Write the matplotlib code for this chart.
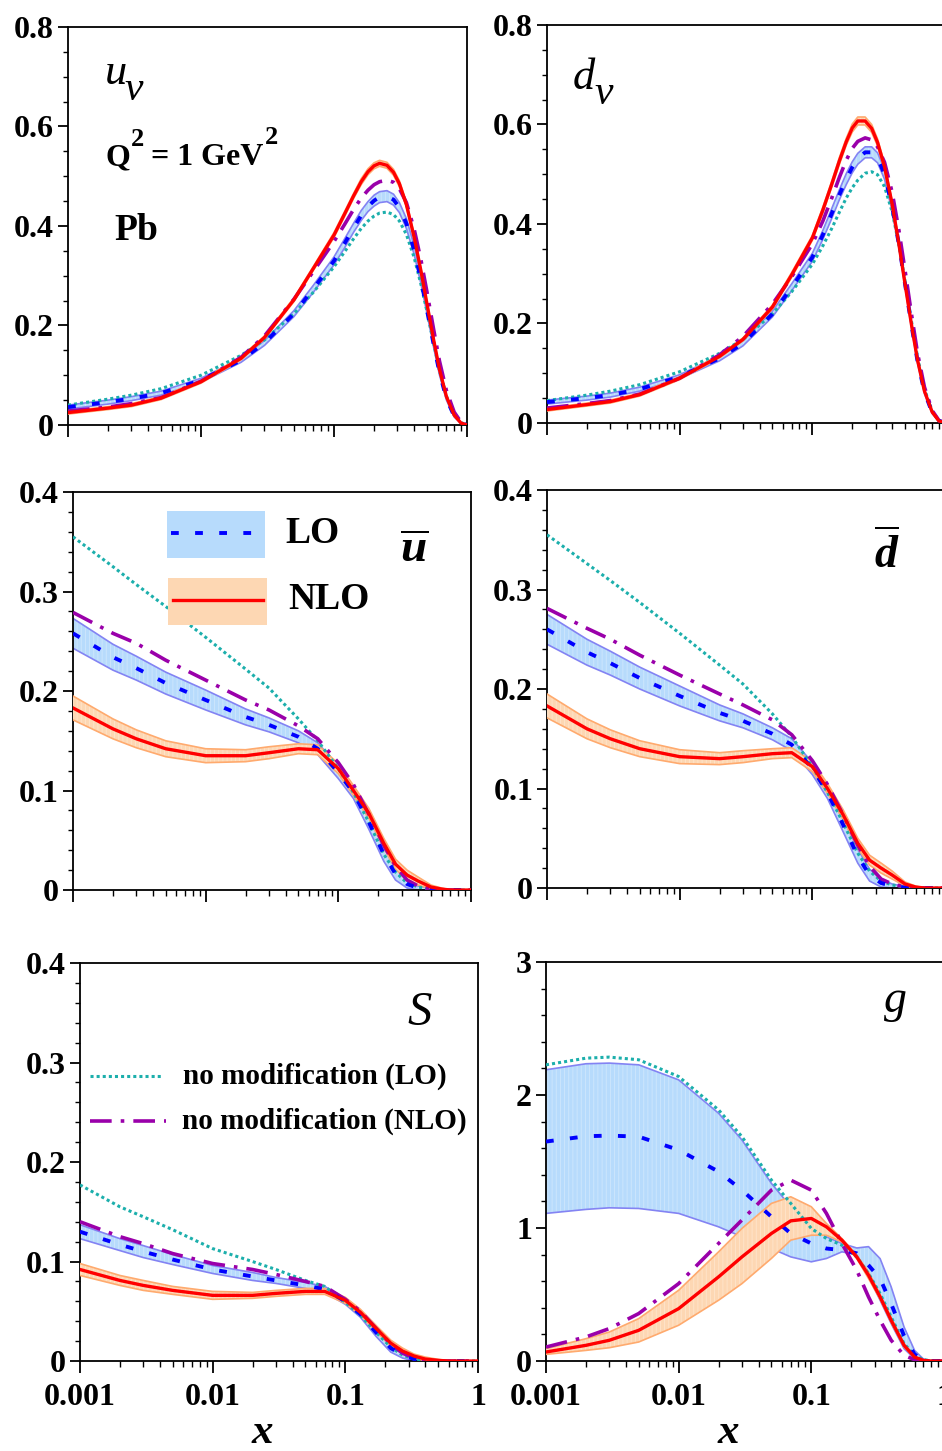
import matplotlib
matplotlib.use('Agg')
import matplotlib.pyplot as plt
from matplotlib.patches import Rectangle
from matplotlib.ticker import FixedLocator, MultipleLocator, LogLocator, NullFormatter, FuncFormatter

plt.rcParams['font.family'] = ['Liberation Serif', 'DejaVu Serif']
plt.rcParams['font.weight'] = 'bold'
plt.rcParams['mathtext.fontset'] = 'custom'
plt.rcParams['mathtext.rm'] = 'Liberation Serif'
plt.rcParams['mathtext.it'] = 'Liberation Serif:italic'
plt.rcParams['mathtext.bf'] = 'Liberation Serif:bold'
plt.rcParams['hatch.linewidth'] = 0.6

# x grid for the valence panels (denser around the peak)
xv = [0.001, 0.002, 0.003, 0.005, 0.01, 0.02, 0.03, 0.05, 0.07, 0.1,
      0.12, 0.14, 0.16, 0.18, 0.2, 0.22, 0.25, 0.28, 0.31, 0.35,
      0.4, 0.45, 0.5, 0.56, 0.62, 0.7, 0.8, 0.9, 1.0]
# x grid for sea quarks and gluon
x = [0.001, 0.002, 0.003, 0.005, 0.01, 0.02, 0.03, 0.05, 0.07, 0.1, 0.13,
     0.17, 0.22, 0.27, 0.33, 0.4, 0.5, 0.6, 0.7, 0.8, 0.9, 1.0]

# u_v
uv_lo = [0.036, 0.046, 0.053, 0.064, 0.090, 0.130, 0.165, 0.224, 0.274, 0.330,
         0.365, 0.396, 0.421, 0.439, 0.451, 0.458, 0.460, 0.453, 0.437, 0.405,
         0.352, 0.292, 0.231, 0.163, 0.106, 0.053, 0.018, 0.004, 0.0]
uv_lo_err = [0.004, 0.004, 0.004, 0.004, 0.004, 0.004, 0.005, 0.006, 0.007, 0.008,
             0.009, 0.009, 0.010, 0.010, 0.011, 0.011, 0.011, 0.011, 0.010, 0.010,
             0.009, 0.008, 0.007, 0.006, 0.005, 0.003, 0.002, 0.001, 0.0]
uv_nlo = [0.025, 0.034, 0.040, 0.054, 0.087, 0.134, 0.176, 0.252, 0.315, 0.382,
          0.424, 0.460, 0.489, 0.509, 0.521, 0.526, 0.522, 0.508, 0.485, 0.443,
          0.378, 0.310, 0.243, 0.172, 0.112, 0.057, 0.020, 0.004, 0.0]
uv_nlo_err = [0.003, 0.003, 0.003, 0.003, 0.003, 0.003, 0.003, 0.004, 0.004, 0.005,
              0.005, 0.005, 0.006, 0.006, 0.006, 0.006, 0.006, 0.006, 0.006, 0.005,
              0.005, 0.004, 0.004, 0.003, 0.003, 0.002, 0.001, 0.0005, 0.0]
uv_nomod_lo = [0.040, 0.052, 0.060, 0.073, 0.100, 0.140, 0.171, 0.224, 0.267, 0.318,
               0.348, 0.374, 0.395, 0.410, 0.420, 0.426, 0.428, 0.423, 0.410, 0.383,
               0.337, 0.283, 0.228, 0.165, 0.110, 0.058, 0.021, 0.005, 0.0]
uv_nomod_nlo = [0.028, 0.036, 0.043, 0.055, 0.088, 0.136, 0.179, 0.253, 0.309, 0.369,
                0.403, 0.433, 0.456, 0.472, 0.483, 0.489, 0.492, 0.488, 0.475, 0.447,
                0.394, 0.332, 0.267, 0.193, 0.129, 0.069, 0.026, 0.006, 0.0]

# d_v
dv_lo = [0.042, 0.050, 0.056, 0.068, 0.093, 0.130, 0.160, 0.219, 0.273, 0.333,
         0.378, 0.421, 0.459, 0.490, 0.514, 0.531, 0.544, 0.544, 0.533, 0.500,
         0.434, 0.358, 0.279, 0.195, 0.125, 0.062, 0.021, 0.004, 0.0]
dv_lo_err = [0.004, 0.004, 0.004, 0.004, 0.004, 0.005, 0.005, 0.006, 0.007, 0.008,
             0.009, 0.010, 0.010, 0.011, 0.011, 0.011, 0.011, 0.011, 0.010, 0.010,
             0.009, 0.007, 0.006, 0.005, 0.004, 0.003, 0.002, 0.001, 0.0]
dv_nlo = [0.027, 0.037, 0.043, 0.057, 0.090, 0.134, 0.168, 0.233, 0.298, 0.372,
          0.428, 0.480, 0.527, 0.565, 0.593, 0.607, 0.607, 0.592, 0.564, 0.515,
          0.439, 0.358, 0.279, 0.196, 0.127, 0.064, 0.022, 0.004, 0.0]
dv_nlo_err = [0.003, 0.003, 0.003, 0.003, 0.003, 0.003, 0.003, 0.004, 0.005, 0.005,
              0.006, 0.006, 0.007, 0.007, 0.008, 0.008, 0.008, 0.008, 0.007, 0.007,
              0.006, 0.005, 0.004, 0.003, 0.003, 0.002, 0.001, 0.0005, 0.0]
dv_nomod_lo = [0.045, 0.056, 0.064, 0.077, 0.103, 0.140, 0.168, 0.219, 0.264, 0.319,
               0.356, 0.391, 0.424, 0.452, 0.473, 0.488, 0.502, 0.505, 0.499, 0.475,
               0.424, 0.357, 0.285, 0.203, 0.133, 0.068, 0.024, 0.005, 0.0]
dv_nomod_nlo = [0.030, 0.039, 0.045, 0.058, 0.090, 0.137, 0.174, 0.239, 0.294, 0.360,
                0.406, 0.452, 0.494, 0.528, 0.552, 0.566, 0.573, 0.569, 0.555, 0.524,
                0.463, 0.386, 0.306, 0.217, 0.141, 0.072, 0.025, 0.005, 0.0]

# u-bar
ub_lo = [0.258, 0.234, 0.223, 0.208, 0.191, 0.174, 0.166, 0.154, 0.142, 0.118, 0.098,
         0.068, 0.036, 0.016, 0.006, 0.002, 0.0005, 0.0, 0.0, 0.0, 0.0, 0.0]
ub_lo_err = [0.015, 0.013, 0.012, 0.011, 0.010, 0.008, 0.007, 0.006, 0.006, 0.006, 0.006,
             0.007, 0.007, 0.006, 0.004, 0.002, 0.001, 0.0, 0.0, 0.0, 0.0, 0.0]
ub_nlo = [0.183, 0.162, 0.152, 0.142, 0.135, 0.135, 0.138, 0.142, 0.141, 0.122, 0.100,
          0.077, 0.047, 0.026, 0.015, 0.009, 0.003, 0.001, 0.0, 0.0, 0.0, 0.0]
ub_nlo_err = [0.012, 0.010, 0.009, 0.008, 0.007, 0.006, 0.006, 0.005, 0.005, 0.005, 0.005,
              0.005, 0.005, 0.005, 0.005, 0.004, 0.002, 0.001, 0.0, 0.0, 0.0, 0.0]
ub_nomod_lo = [0.355, 0.325, 0.307, 0.285, 0.254, 0.222, 0.203, 0.172, 0.150, 0.122, 0.098,
               0.068, 0.036, 0.018, 0.007, 0.003, 0.001, 0.0, 0.0, 0.0, 0.0, 0.0]
ub_nomod_nlo = [0.279, 0.258, 0.248, 0.231, 0.211, 0.191, 0.181, 0.165, 0.152, 0.128, 0.106,
                0.076, 0.045, 0.024, 0.010, 0.004, 0.001, 0.0, 0.0, 0.0, 0.0, 0.0]

# d-bar
db_lo = [0.260, 0.237, 0.226, 0.211, 0.193, 0.176, 0.168, 0.155, 0.144, 0.120, 0.096,
         0.064, 0.032, 0.013, 0.005, 0.002, 0.0005, 0.0, 0.0, 0.0, 0.0, 0.0]
db_lo_err = [0.015, 0.013, 0.012, 0.011, 0.010, 0.008, 0.007, 0.006, 0.006, 0.006, 0.006,
             0.007, 0.007, 0.006, 0.004, 0.002, 0.001, 0.0, 0.0, 0.0, 0.0, 0.0]
db_nlo = [0.183, 0.160, 0.150, 0.140, 0.132, 0.130, 0.132, 0.135, 0.136, 0.122, 0.100,
          0.074, 0.045, 0.028, 0.020, 0.013, 0.004, 0.001, 0.0, 0.0, 0.0, 0.0]
db_nlo_err = [0.012, 0.010, 0.009, 0.008, 0.007, 0.006, 0.006, 0.005, 0.005, 0.005, 0.005,
              0.005, 0.005, 0.005, 0.005, 0.004, 0.002, 0.001, 0.0, 0.0, 0.0, 0.0]
db_nomod_lo = [0.355, 0.326, 0.309, 0.287, 0.256, 0.224, 0.205, 0.175, 0.152, 0.122, 0.096,
               0.066, 0.035, 0.017, 0.007, 0.003, 0.001, 0.0, 0.0, 0.0, 0.0, 0.0]
db_nomod_nlo = [0.281, 0.261, 0.250, 0.234, 0.214, 0.195, 0.184, 0.169, 0.154, 0.128, 0.104,
                0.074, 0.043, 0.022, 0.009, 0.004, 0.001, 0.0, 0.0, 0.0, 0.0, 0.0]

# strange
s_lo = [0.130, 0.117, 0.110, 0.102, 0.092, 0.085, 0.081, 0.076, 0.072, 0.060, 0.047,
        0.029, 0.013, 0.006, 0.002, 0.0005, 0.0, 0.0, 0.0, 0.0, 0.0, 0.0]
s_lo_err = [0.007, 0.006, 0.006, 0.005, 0.004, 0.004, 0.003, 0.003, 0.003, 0.003, 0.003,
            0.004, 0.004, 0.003, 0.002, 0.001, 0.0, 0.0, 0.0, 0.0, 0.0, 0.0]
s_nlo = [0.092, 0.081, 0.076, 0.071, 0.066, 0.066, 0.068, 0.070, 0.070, 0.061, 0.049,
         0.033, 0.018, 0.010, 0.005, 0.002, 0.0007, 0.0, 0.0, 0.0, 0.0, 0.0]
s_nlo_err = [0.006, 0.005, 0.005, 0.004, 0.004, 0.003, 0.003, 0.003, 0.003, 0.003, 0.003,
             0.003, 0.003, 0.003, 0.002, 0.002, 0.001, 0.0, 0.0, 0.0, 0.0, 0.0]
s_nomod_lo = [0.177, 0.155, 0.145, 0.132, 0.113, 0.100, 0.092, 0.081, 0.075, 0.059, 0.046,
              0.029, 0.014, 0.006, 0.002, 0.001, 0.0, 0.0, 0.0, 0.0, 0.0, 0.0]
s_nomod_nlo = [0.140, 0.125, 0.118, 0.108, 0.098, 0.092, 0.087, 0.080, 0.075, 0.062, 0.050,
               0.033, 0.017, 0.008, 0.003, 0.001, 0.0, 0.0, 0.0, 0.0, 0.0, 0.0]

# gluon
g_lo = [1.650, 1.690, 1.695, 1.687, 1.587, 1.424, 1.285, 1.085, 0.959, 0.884, 0.846,
        0.834, 0.810, 0.720, 0.620, 0.430, 0.190, 0.050, 0.010, 0.0, 0.0, 0.0]
g_lo_up = [2.190, 2.235, 2.240, 2.227, 2.114, 1.863, 1.662, 1.336, 1.160, 1.009, 0.934,
           0.884, 0.850, 0.860, 0.770, 0.557, 0.256, 0.080, 0.015, 0.002, 0.0, 0.0]
g_lo_dn = [1.110, 1.140, 1.152, 1.147, 1.110, 1.009, 0.934, 0.846, 0.783, 0.746, 0.771,
           0.821, 0.800, 0.633, 0.457, 0.281, 0.093, 0.018, 0.003, 0.0, 0.0, 0.0]
g_nlo = [0.068, 0.118, 0.156, 0.231, 0.394, 0.633, 0.783, 0.959, 1.054, 1.072, 1.009,
         0.909, 0.783, 0.645, 0.482, 0.306, 0.118, 0.030, 0.005, 0.0, 0.0, 0.0]
g_nlo_up = [0.093, 0.168, 0.218, 0.319, 0.532, 0.821, 0.997, 1.185, 1.235, 1.160, 1.034,
            0.921, 0.796, 0.670, 0.500, 0.325, 0.130, 0.036, 0.007, 0.001, 0.0, 0.0]
g_nlo_dn = [0.050, 0.080, 0.100, 0.143, 0.269, 0.457, 0.582, 0.771, 0.909, 0.946, 0.946,
            0.896, 0.771, 0.620, 0.465, 0.290, 0.106, 0.025, 0.004, 0.0, 0.0, 0.0]
g_nomod_lo = [2.227, 2.277, 2.285, 2.265, 2.139, 1.888, 1.687, 1.361, 1.185, 0.997, 0.921,
              0.871, 0.783, 0.658, 0.507, 0.331, 0.131, 0.043, 0.010, 0.002, 0.0, 0.0]
g_nomod_nlo = [0.105, 0.181, 0.244, 0.357, 0.582, 0.884, 1.060, 1.285, 1.360, 1.285, 1.110,
               0.884, 0.683, 0.482, 0.306, 0.156, 0.043, 0.010, 0.002, 0.0, 0.0, 0.0]

x_ticklabels = ['0.001', '0.01', '0.1', '1']

LO_FILL = '#b7dbfc'
LO_HATCH = '#cfe7fd'
LO_EDGE = '#8383f3'
LO_LINE = '#0000ff'
NLO_FILL = '#fdd7b3'
NLO_HATCH = '#ffe5cc'
NLO_EDGE = '#ffaa6e'
NLO_LINE = '#ff0000'
TEAL = '#1cafac'
PURPLE = '#9a00aa'

DASH_LO = (0, (2, 4.2))
DOT = (0, (1, 1))
DASHDOT = (0, (6, 2.5, 1, 2.5))

fig = plt.figure(figsize=(9.42, 14.51), dpi=100)


def band(center, err):
    dn = [c - e for c, e in zip(center, err)]
    up = [c + e for c, e in zip(center, err)]
    return dn, up


def draw_panel(rect, xs, lo, lo_dn, lo_up, nlo, nlo_dn, nlo_up, nm_lo, nm_nlo,
               ymax, ymajor, yminor, show_xlabels):
    ax = fig.add_axes(rect)
    ax.fill_between(xs, lo_dn, lo_up, facecolor=LO_FILL, edgecolor=LO_HATCH,
                    hatch='||||', lw=0, zorder=1)
    ax.plot(xs, lo_dn, color=LO_EDGE, lw=1.2, zorder=2)
    ax.plot(xs, lo_up, color=LO_EDGE, lw=1.2, zorder=2)
    ax.fill_between(xs, nlo_dn, nlo_up, facecolor=NLO_FILL, edgecolor=NLO_HATCH,
                    hatch='||||', lw=0, zorder=3)
    ax.plot(xs, nlo_dn, color=NLO_EDGE, lw=1.2, zorder=4)
    ax.plot(xs, nlo_up, color=NLO_EDGE, lw=1.2, zorder=4)
    ax.plot(xs, nm_lo, color=TEAL, lw=2.2, ls=DOT, zorder=5)
    ax.plot(xs, nm_nlo, color=PURPLE, lw=2.6, ls=DASHDOT, zorder=6)
    ax.plot(xs, lo, color=LO_LINE, lw=2.8, ls=DASH_LO, zorder=7)
    ax.plot(xs, nlo, color=NLO_LINE, lw=2.4, zorder=8)

    ax.set_xscale('log')
    ax.set_xlim(0.001, 1)
    ax.set_ylim(0, ymax)
    ax.xaxis.set_major_locator(FixedLocator([0.001, 0.01, 0.1, 1]))
    ax.xaxis.set_minor_locator(LogLocator(base=10, subs=[2, 3, 4, 5, 6, 7, 8, 9], numticks=20))
    ax.xaxis.set_minor_formatter(NullFormatter())
    if show_xlabels:
        ax.set_xticklabels(x_ticklabels)
    else:
        ax.xaxis.set_major_formatter(NullFormatter())
    ax.yaxis.set_major_locator(MultipleLocator(ymajor))
    ax.yaxis.set_minor_locator(MultipleLocator(yminor))
    ax.yaxis.set_major_formatter(FuncFormatter(lambda v, p: '0' if abs(v) < 1e-9 else '%g' % v))

    ax.tick_params(which='both', direction='out', top=False, right=False)
    ax.tick_params(axis='y', which='major', length=7, width=1.3, pad=3, labelsize=23)
    ax.tick_params(axis='y', which='minor', length=3.6, width=1.0)
    ax.tick_params(axis='x', which='major', length=8.5, width=1.3, pad=7, labelsize=23)
    ax.tick_params(axis='x', which='minor', length=4.5, width=1.0)
    for sp in ax.spines.values():
        sp.set_linewidth(1.3)
    return ax


# row 1: valence
ax1 = draw_panel([0.0722, 0.7071, 0.4236, 0.2743], xv, uv_lo, *band(uv_lo, uv_lo_err),
                 uv_nlo, *band(uv_nlo, uv_nlo_err), uv_nomod_lo, uv_nomod_nlo,
                 0.8, 0.2, 0.05, False)
ax2 = draw_panel([0.5807, 0.7085, 0.4225, 0.2743], xv, dv_lo, *band(dv_lo, dv_lo_err),
                 dv_nlo, *band(dv_nlo, dv_nlo_err), dv_nomod_lo, dv_nomod_nlo,
                 0.8, 0.2, 0.05, False)
# row 2: sea antiquarks
ax3 = draw_panel([0.0775, 0.3866, 0.4225, 0.2743], x, ub_lo, *band(ub_lo, ub_lo_err),
                 ub_nlo, *band(ub_nlo, ub_nlo_err), ub_nomod_lo, ub_nomod_nlo,
                 0.4, 0.1, 0.02, False)
ax4 = draw_panel([0.5807, 0.3880, 0.4225, 0.2743], x, db_lo, *band(db_lo, db_lo_err),
                 db_nlo, *band(db_nlo, db_nlo_err), db_nomod_lo, db_nomod_nlo,
                 0.4, 0.1, 0.02, False)
# row 3: strange and gluon
ax5 = draw_panel([0.0849, 0.0620, 0.4225, 0.2743], x, s_lo, *band(s_lo, s_lo_err),
                 s_nlo, *band(s_nlo, s_nlo_err), s_nomod_lo, s_nomod_nlo,
                 0.4, 0.1, 0.02, True)
ax6 = draw_panel([0.5796, 0.0620, 0.4225, 0.2750], x, g_lo, g_lo_dn, g_lo_up,
                 g_nlo, g_nlo_dn, g_nlo_up, g_nomod_lo, g_nomod_nlo,
                 3, 1, 0.2, True)

# panel labels
lab = dict(fontstyle='italic', fontweight='normal', va='baseline', ha='left')
ax1.text(0.093, 0.856, 'u', transform=ax1.transAxes, fontsize=32, **lab)
ax1.text(0.142, 0.817, 'v', transform=ax1.transAxes, fontsize=30, **lab)
ax2.text(0.065, 0.838, 'd', transform=ax2.transAxes, fontsize=32, **lab)
ax2.text(0.120, 0.802, 'v', transform=ax2.transAxes, fontsize=30, **lab)
ax3.text(0.822, 0.822, r'$\overline{u}$', transform=ax3.transAxes, fontsize=34, **lab)
ax4.text(0.822, 0.804, r'$\overline{d}$', transform=ax4.transAxes, fontsize=33, **lab)
ax5.text(0.822, 0.844, 'S', transform=ax5.transAxes, fontsize=35, **lab)
ax6.text(0.850, 0.875, 'g', transform=ax6.transAxes, fontsize=33, **lab)

# Q^2 = 1 GeV^2, built piece by piece so the superscripts stay large
renderer = fig.canvas.get_renderer()
inv = ax1.transAxes.inverted()
pieces = [('Q', 23, 0.653, 1), ('2', 19, 0.700, 7), ('= 1 GeV', 23, 0.653, 1),
          ('2', 19, 0.705, 0)]
xpos = 0.093
for txt, size, ypos, gap in pieces:
    t = ax1.text(xpos, ypos, txt, transform=ax1.transAxes, fontsize=size,
                 va='baseline', ha='left')
    bb = t.get_window_extent(renderer)
    xpos = inv.transform((bb.x1 + gap, bb.y0))[0]

ax1.text(0.115, 0.465, 'Pb', transform=ax1.transAxes, fontsize=27, va='baseline', ha='left')

# legend LO / NLO in the u-bar panel
ax3.add_patch(Rectangle((0.236, 0.834), 0.246, 0.118, transform=ax3.transAxes,
                        facecolor=LO_FILL, edgecolor='none', zorder=9))
ax3.plot([0.245, 0.475], [0.897, 0.897], transform=ax3.transAxes, color=LO_LINE,
         lw=2.8, ls=DASH_LO, zorder=10)
ax3.text(0.533, 0.897, 'LO', transform=ax3.transAxes, fontsize=27, va='center', ha='left')
ax3.add_patch(Rectangle((0.239, 0.666), 0.248, 0.118, transform=ax3.transAxes,
                        facecolor=NLO_FILL, edgecolor='none', zorder=9))
ax3.plot([0.251, 0.477], [0.729, 0.729], transform=ax3.transAxes, color=NLO_LINE,
         lw=2.4, zorder=10)
ax3.text(0.540, 0.729, 'NLO', transform=ax3.transAxes, fontsize=27, va='center', ha='left')

# legend for unmodified PDFs in the strange panel
ax5.plot([0.025, 0.209], [0.716, 0.716], transform=ax5.transAxes, color=TEAL, lw=2.2, ls=DOT)
ax5.text(0.259, 0.716, 'no modification (LO)', transform=ax5.transAxes, fontsize=21,
         va='center', ha='left')
ax5.plot([0.025, 0.216], [0.603, 0.603], transform=ax5.transAxes, color=PURPLE, lw=2.6,
         ls=DASHDOT)
ax5.text(0.256, 0.603, 'no modification (NLO)', transform=ax5.transAxes, fontsize=21,
         va='center', ha='left')

# x axis labels
fig.text(262 / 942, 1 - 1443 / 1451, 'x', fontsize=31, fontstyle='italic', ha='center',
         va='baseline')
fig.text(728 / 942, 1 - 1443 / 1451, 'x', fontsize=31, fontstyle='italic', ha='center',
         va='baseline')

fig.savefig('out.png', dpi=100)
